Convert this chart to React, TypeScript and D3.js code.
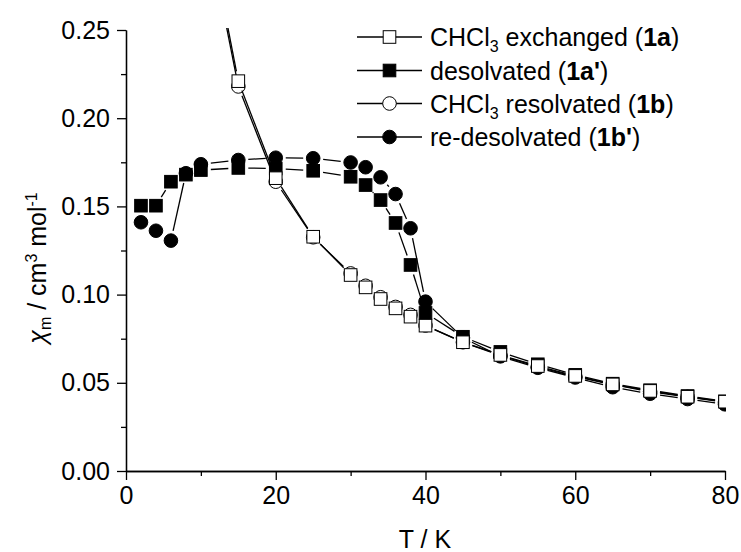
import * as d3 from 'd3';
import React, { useEffect, useRef } from 'react';

// temperatures (K)
const tempsLow = [2, 4, 6, 8, 10, 15, 20, 25, 30, 32, 34, 36, 38, 40, 45, 50, 55, 60, 65, 70, 75, 80];
const tempsOpen = [10, 15, 20, 25, 30, 32, 34, 36, 38, 40, 45, 50, 55, 60, 65, 70, 75, 80];

// chi_m values (cm3 mol-1)
const chiExchanged = [0.33, 0.221, 0.166, 0.1328, 0.1111, 0.1041, 0.0975, 0.0922, 0.0875, 0.0824, 0.073, 0.0658, 0.0595, 0.0539, 0.0491, 0.0454, 0.0421, 0.0393];
const chiResolvated = [0.325, 0.218, 0.164, 0.1325, 0.112, 0.105, 0.0985, 0.093, 0.0885, 0.0825, 0.073, 0.0655, 0.059, 0.0535, 0.049, 0.045, 0.042, 0.039];
const chiDesolvated = [0.1504, 0.1504, 0.164, 0.168, 0.1706, 0.1718, 0.1715, 0.1702, 0.1668, 0.1621, 0.1536, 0.1406, 0.1168, 0.0896, 0.0761, 0.0675, 0.0605, 0.0545, 0.0495, 0.0458, 0.0425, 0.0395];
const chiRedesolvated = [0.141, 0.1362, 0.1306, 0.1688, 0.1739, 0.1763, 0.1776, 0.1773, 0.1749, 0.1722, 0.1665, 0.157, 0.1376, 0.096, 0.0755, 0.065, 0.0585, 0.053, 0.0475, 0.0438, 0.0408, 0.0378];

const xTicks = [0, 20, 40, 60, 80];
const xMinor = [10, 30, 50, 70];
const yTicks = [0, 0.05, 0.1, 0.15, 0.2, 0.25];
const yMinor = [0.025, 0.075, 0.125, 0.175, 0.225];

// legend order matches the picture; drawing order is different (below)
const series = [
    { name: 'CHCl', sub: '3', rest: ' exchanged (', bold: '1a', end: ')', temps: tempsOpen, values: chiExchanged, shape: 'square', fill: '#fff' },
    { name: 'desolvated (', sub: '', rest: '', bold: '1a\'', end: ')', temps: tempsLow, values: chiDesolvated, shape: 'square', fill: '#000' },
    { name: 'CHCl', sub: '3', rest: ' resolvated (', bold: '1b', end: ')', temps: tempsOpen, values: chiResolvated, shape: 'circle', fill: '#fff' },
    { name: 're-desolvated (', sub: '', rest: '', bold: '1b\'', end: ')', temps: tempsLow, values: chiRedesolvated, shape: 'circle', fill: '#000' },
];

const font = '"Liberation Sans", Arial, sans-serif';
const fs = 25;

const drawMarker = (g: any, shape: string, fill: string, cx: number, cy: number) => {
    if (shape === 'square') {
        g.append('rect')
            .attr('x', cx - 6.3).attr('y', cy - 6.3)
            .attr('width', 12.6).attr('height', 12.6)
            .attr('fill', fill).attr('stroke', '#000').attr('stroke-width', 1);
    } else {
        g.append('circle')
            .attr('cx', cx).attr('cy', cy).attr('r', 6.8)
            .attr('fill', fill).attr('stroke', '#000').attr('stroke-width', 1);
    }
};

const App = () => {
    const svgRef = useRef(null);

    useEffect(() => {
        const svg = d3.select(svgRef.current);
        svg.selectAll('*').remove();

        const x = d3.scaleLinear().domain([0, 80]).range([126, 725]);
        const y = d3.scaleLinear().domain([0, 0.25]).range([471, 30]);

        svg.append('defs').append('clipPath').attr('id', 'plotclip')
            .append('rect').attr('x', 110).attr('y', 28).attr('width', 616).attr('height', 460);

        const plot = svg.append('g').attr('clip-path', 'url(#plotclip)');

        // Origin style: segments stop short of each marker
        const gap = 10;
        const drawOrder = [2, 3, 1, 0];
        drawOrder.forEach((i) => {
            const s = series[i];
            const pts = s.temps.map((t, k) => [x(t), y(s.values[k])]);
            const g = plot.append('g');
            for (let k = 0; k < pts.length - 1; k++) {
                const [x1, y1] = pts[k];
                const [x2, y2] = pts[k + 1];
                const len = Math.hypot(x2 - x1, y2 - y1);
                if (len <= 2 * gap) continue;
                const ux = (x2 - x1) / len, uy = (y2 - y1) / len;
                g.append('line')
                    .attr('x1', x1 + ux * gap).attr('y1', y1 + uy * gap)
                    .attr('x2', x2 - ux * gap).attr('y2', y2 - uy * gap)
                    .attr('stroke', '#000').attr('stroke-width', 1.3);
            }
            pts.forEach(([px, py]) => drawMarker(g, s.shape, s.fill, px, py));
        });

        // axes
        const styleAxis = (g: any) => {
            g.select('.domain').attr('stroke-width', 1.3);
            g.selectAll('.tick line').attr('stroke-width', 1.3);
            g.selectAll('.tick text').attr('font-size', fs).attr('font-family', font).attr('fill', '#000');
        };

        svg.append('g').attr('transform', 'translate(0,471)')
            .call(d3.axisBottom(x).tickValues(xMinor).tickSize(5).tickSizeOuter(0).tickFormat(() => ''))
            .call(styleAxis);
        svg.append('g').attr('transform', 'translate(0,471)')
            .call(d3.axisBottom(x).tickValues(xTicks).tickSize(9).tickSizeOuter(0).tickPadding(6).tickFormat(d3.format('d')))
            .call(styleAxis);

        svg.append('g').attr('transform', 'translate(126,0)')
            .call(d3.axisLeft(y).tickValues(yMinor).tickSize(5).tickSizeOuter(0).tickFormat(() => ''))
            .call(styleAxis);
        svg.append('g').attr('transform', 'translate(126,0)')
            .call(d3.axisLeft(y).tickValues(yTicks).tickSize(9).tickSizeOuter(0).tickPadding(7).tickFormat(d3.format('.2f')))
            .call(styleAxis);

        // axis titles
        svg.append('text')
            .attr('x', 425).attr('y', 548)
            .attr('text-anchor', 'middle')
            .attr('font-family', font).attr('font-size', fs)
            .text('T / K');

        const yl = svg.append('text')
            .attr('transform', 'translate(46,268) rotate(-90)')
            .attr('text-anchor', 'middle')
            .attr('font-family', font).attr('font-size', fs);
        yl.append('tspan').attr('font-style', 'italic').text('\u03c7');
        yl.append('tspan').attr('font-size', 16).attr('dy', 5).text('m');
        yl.append('tspan').attr('dy', -5).text(' / cm');
        yl.append('tspan').attr('font-size', 16).attr('dy', -9).text('3');
        yl.append('tspan').attr('dy', 9).text(' mol');
        yl.append('tspan').attr('font-size', 16).attr('dy', -9).text('-1');

        // legend
        const rowsY = [37, 70.5, 103.5, 137];
        series.forEach((s, i) => {
            const ly = rowsY[i];
            const lg = svg.append('g');
            lg.append('line').attr('x1', 357).attr('x2', 422).attr('y1', ly).attr('y2', ly)
                .attr('stroke', '#000').attr('stroke-width', 1.3);
            drawMarker(lg, s.shape, s.fill, 389.5, ly);
            const t = lg.append('text')
                .attr('x', 430).attr('y', ly + 9)
                .attr('font-family', font).attr('font-size', fs);
            t.append('tspan').text(s.name);
            if (s.sub) {
                t.append('tspan').attr('font-size', 16).attr('dy', 6).text(s.sub);
                t.append('tspan').attr('dy', -6).text(s.rest);
            }
            t.append('tspan').attr('font-weight', 'bold').text(s.bold);
            t.append('tspan').text(s.end);
        });
    }, []);

    return (
        <div>
            <svg ref={svgRef} width={741} height={552}
                style={{ position: 'absolute', left: 0, top: 0, background: '#fff' }}>
            </svg>
        </div>
    );
};

export default App;
